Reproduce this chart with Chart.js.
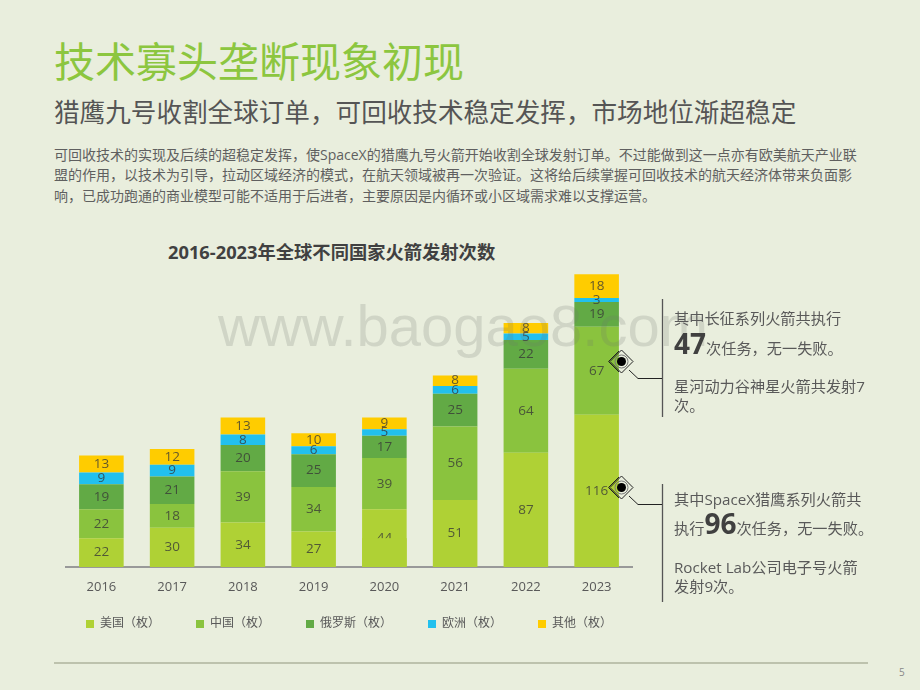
<!DOCTYPE html>
<html>
<head>
<meta charset="utf-8">
<script src="https://cdn.jsdelivr.net/npm/chart.js@4"></script>
<style>
  html, body { margin: 0; padding: 0; }
  body { width: 920px; height: 690px; background: #e9eedd; position: relative; overflow: hidden;
         font-family: "Open Sans", "Noto Sans CJK SC", sans-serif; color: #595959; }
  .t { position: absolute; white-space: nowrap; line-height: 1; }
  #title { left: 54px; top: 39px; font-size: 41px; color: #8cc63f; font-family: "Noto Sans CJK SC"; font-weight: 400; }
  #sub { left: 54px; top: 98px; font-size: 25.6px; color: #555; font-family: "Noto Sans CJK SC"; }
  .body { left: 54px; font-size: 14px; color: #5f5f5f; }
  #chartTitle { left: 168px; top: 243px; font-size: 18.3px; font-weight: 700; color: #404040; }
  .note { left: 674px; font-size: 15.2px; color: #595959; z-index: 5; }
  .note b { font-size: 28px; color: #404040; font-weight: 700; }
  #mark { position: absolute; left: 218px; top: 292px; font: 58px "Liberation Sans"; color: rgba(110,115,110,.2); white-space: nowrap; z-index: 3; }
  #wrap { position: absolute; left: 0; top: 240px; width: 748px; height: 400px; }
  svg { position: absolute; left: 0; top: 0; z-index: 4; }
</style>
</head>
<body>
<div class="t" id="title">技术寡头垄断现象初现</div>
<div class="t" id="sub">猎鹰九号收割全球订单，可回收技术稳定发挥，市场地位渐超稳定</div>
<div class="t body" style="top:148px">可回收技术的实现及后续的超稳定发挥，使SpaceX的猎鹰九号火箭开始收割全球发射订单。不过能做到这一点亦有欧美航天产业联</div>
<div class="t body" style="top:168px">盟的作用，以技术为引导，拉动区域经济的模式，在航天领域被再一次验证。这将给后续掌握可回收技术的航天经济体带来负面影</div>
<div class="t body" style="top:189px">响，已成功跑通的商业模型可能不适用于后进者，主要原因是内循环或小区域需求难以支撑运营。</div>
<div class="t" id="chartTitle">2016-2023年全球不同国家火箭发射次数</div>

<div id="wrap"><canvas id="myChart" width="748" height="400"></canvas></div>
<div id="mark">www.baogao8.com</div>

<svg width="920" height="690">
  <g stroke="#555" stroke-width="1.3" fill="none">
    <line x1="662.5" y1="299" x2="662.5" y2="417"/>
    <line x1="662.5" y1="484" x2="662.5" y2="602"/>
  </g>
  <g stroke="#222" stroke-width="1" fill="none">
    <polyline points="629,370 638,378.5 662,378.5"/>
    <polyline points="629,496 638,504.5 662,504.5"/>
    <path d="M621.5 350 L633 361.5 L621.5 373 L610 361.5 Z"/>
    <path d="M619 351 L608.5 361.5 L619 372"/>
    <circle cx="621.5" cy="361.5" r="6.5" stroke="#777"/>
    <path d="M621.5 476 L633 487.5 L621.5 499 L610 487.5 Z"/>
    <path d="M619 477 L608.5 487.5 L619 498"/>
    <circle cx="621.5" cy="487.5" r="6.5" stroke="#777"/>
  </g>
  <circle cx="621.5" cy="361.5" r="4.5" fill="#000"/>
  <circle cx="621.5" cy="487.5" r="4.5" fill="#000"/>
  <line x1="54" y1="663" x2="868" y2="663" stroke="#aeb39c" stroke-width="1.5"/>
</svg>

<div class="t note" style="top:311px">其中长征系列火箭共执行</div>
<div class="t note" style="top:329px"><b>47</b>次任务，无一失败。</div>
<div class="t note" style="top:379px">星河动力谷神星火箭共发射7</div>
<div class="t note" style="top:398px">次。</div>
<div class="t note" style="top:492px">其中SpaceX猎鹰系列火箭共</div>
<div class="t note" style="top:509px">执行<b>96</b>次任务，无一失败。</div>
<div class="t note" style="top:560px">Rocket Lab公司电子号火箭</div>
<div class="t note" style="top:579px">发射9次。</div>
<div class="t" style="left:899px;top:667px;font-size:10px;color:#888">5</div>

<script>
const years = ['2016', '2017', '2018', '2019', '2020', '2021', '2022', '2023'];
const usa = [22, 30, 34, 27, 44, 51, 87, 116];
const china = [22, 18, 39, 34, 39, 56, 64, 67];
const russia = [19, 21, 20, 25, 17, 25, 22, 19];
const europe = [9, 9, 8, 6, 5, 6, 5, 3];
const others = [13, 12, 13, 10, 9, 8, 8, 18];

// 凡例の間隔を揃えるため全角スペースを足している
const names = ['美国（枚）　　', '中国（枚）　　', '俄罗斯（枚）　　', '欧洲（枚）　　', '其他（枚）'];
const colors = ['#afd135', '#8ac33e', '#62aa45', '#22c0ee', '#ffcc00'];
const seriesValues = [usa, china, russia, europe, others];

const fontName = '"Open Sans", "Noto Sans CJK SC", sans-serif';

const segmentLabels = {
  id: 'segmentLabels',
  afterDatasetsDraw(chart) {
    const ctx = chart.ctx;
    ctx.save();
    ctx.font = '13.5px ' + fontName;
    ctx.textAlign = 'center';
    ctx.textBaseline = 'middle';
    ctx.fillStyle = 'rgba(55,55,55,0.78)';
    chart.data.datasets.forEach((ds, i) => {
      chart.getDatasetMeta(i).data.forEach((bar, j) => {
        ctx.fillText(ds.data[j], bar.x, (bar.y + bar.base) / 2);
      });
    });
    // 元の図では2020年の「44」の下半分が隠れている
    const bar2020 = chart.getDatasetMeta(0).data[years.indexOf('2020')];
    const yScale = chart.scales.y;
    ctx.fillStyle = colors[0];
    ctx.fillRect(bar2020.x - bar2020.width / 2, yScale.getPixelForValue(22),
      bar2020.width, yScale.getPixelForValue(0) - yScale.getPixelForValue(22));
    ctx.restore();
  }
};

const ctx = document.getElementById('myChart').getContext('2d');
new Chart(ctx, {
  type: 'bar',
  data: {
    labels: years,
    datasets: names.map((name, i) => ({
      label: name,
      data: seriesValues[i],
      backgroundColor: colors[i],
      borderWidth: 0,
      categoryPercentage: 1,
      barPercentage: 0.63
    }))
  },
  plugins: [segmentLabels],
  options: {
    responsive: false,
    animation: false,
    layout: { padding: { left: 66, right: 116, top: 12, bottom: 0 } },
    scales: {
      x: {
        stacked: true,
        grid: { display: false },
        border: { color: '#999', width: 2 },
        ticks: { color: '#595959', font: { size: 13, family: fontName, lineHeight: 1.46 }, padding: 3 }
      },
      y: { stacked: true, display: false, min: 0, max: 240 }
    },
    plugins: {
      tooltip: { enabled: false },
      legend: {
        position: 'bottom',
        labels: { boxWidth: 8, boxHeight: 8, padding: 18, color: '#595959', font: { size: 12, family: fontName } }
      }
    }
  }
});
</script>
</body>
</html>
